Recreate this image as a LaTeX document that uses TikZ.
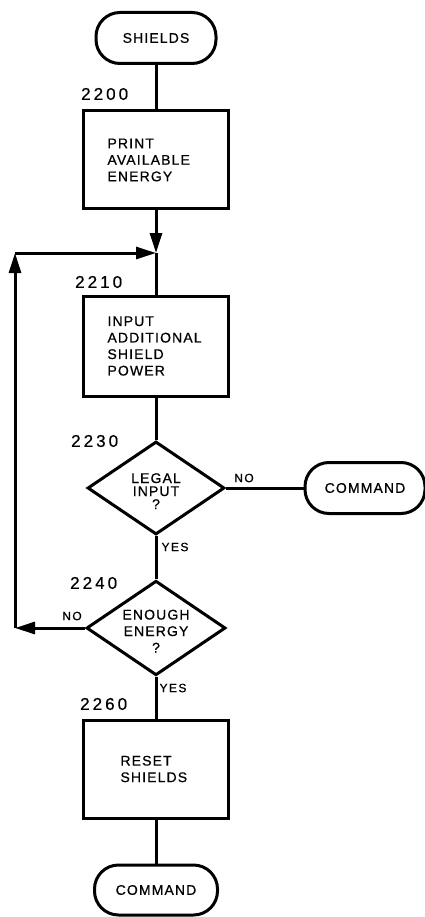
\documentclass[tikz,border=0pt]{standalone}
\usepackage{fontspec}
\setmainfont{Liberation Sans}[LetterSpace=8, FakeBold=0.6]
\usetikzlibrary{arrows.meta,shapes.geometric}

\begin{document}
\begin{tikzpicture}[x=1pt, y=-1pt, line width=3pt,
  txt/.style={font=\fontsize{14}{16.5}\selectfont},
  terminal/.style={draw, txt, rounded corners=24pt, minimum width=120pt, minimum height=51pt, inner sep=0pt},
  procbox/.style={draw, txt, minimum width=145pt, minimum height=98pt, text width=97pt, inner xsep=24pt, align=left},
  decision/.style={draw, diamond, txt, aspect=1.47, inner sep=0pt, minimum width=137pt, minimum height=93pt, align=center},
  stepnum/.style={anchor=east, font=\fontsize{17}{20}\selectfont\addfontfeature{LetterSpace=18}},
  answer/.style={font=\fontsize{12}{14}\selectfont\addfontfeature{LetterSpace=12}},
  flow/.style={-{Triangle[length=20pt,width=12pt]}}]
\useasboundingbox (0,0) rectangle (425,917);
\node[terminal] (shields) at (156,38) {SHIELDS};
\node[stepnum] (n2200) at (133,94) {2200};
\node[procbox] (print) at (156,160) {PRINT\\AVAILABLE\\ENERGY};
\coordinate (merge) at (156,253);
\node[stepnum] (n2210) at (127,282) {2210};
\node[procbox, minimum height=100pt] (input) at (156,346) {INPUT\\ADDITIONAL\\SHIELD\\POWER};
\node[stepnum] (n2230) at (123,441) {2230};
\node[decision, font=\fontsize{14}{13}\selectfont] (legal) at (156,488) {\rule{0pt}{16pt}LEGAL\\INPUT\\?};
\node[answer] (noright) at (244,478) {NO};
\node[terminal] (cmdright) at (365,488) {COMMAND};
\node[answer] (yesmid) at (175,547) {YES};
\node[stepnum] (n2240) at (122,583) {2240};
\node[decision] (enough) at (156,628) {\rule{0pt}{16pt}ENOUGH\\ENERGY\\?};
\node[answer] (noleft) at (72,616) {NO};
\coordinate (loopbottom) at (15,628);
\coordinate (looptop) at (15,253);
\node[answer] (yesend) at (173,688) {YES};
\node[stepnum] (n2260) at (132,704) {2260};
\node[procbox, text width=71pt, inner xsep=37pt] (reset) at (156,769) {RESET\\SHIELDS};
\node[terminal, minimum width=123pt, minimum height=50pt] (cmdend) at (156,890) {COMMAND};
\draw (shields.south) -- (print.north);
\draw[flow] (print.south) -- (merge);
\draw (merge) -- (input.north);
\draw (input.south) -- (legal.north);
\draw (legal.east) -- (cmdright.west);
\draw (legal.south) -- (enough.north);
\draw[flow] (enough.west) -- (loopbottom);
\draw[flow] (loopbottom) -- (looptop);
\draw[flow] (looptop) -- (merge);
\draw (enough.south) -- (reset.north);
\draw (reset.south) -- (cmdend.north);
\end{tikzpicture}
\end{document}
